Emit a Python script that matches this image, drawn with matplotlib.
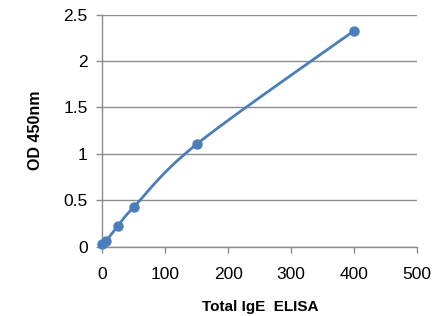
import numpy as np
import matplotlib
matplotlib.use("Agg")
import matplotlib.pyplot as plt

# data
conc = [0, 6.25, 25, 50, 150, 400]
od = [0.025, 0.065, 0.226, 0.427, 1.106, 2.328]

xticks = [0, 100, 200, 300, 400, 500]
yticks = [0, 0.5, 1, 1.5, 2, 2.5]
ytick_labels = ["0", "0.5", "1", "1.5", "2", "2.5"]

line_color = "#4a7ebb"
grid_color = "#8c8c8c"

plt.rcParams["font.family"] = ["Liberation Sans", "DejaVu Sans"]

fig = plt.figure(figsize=(4.42, 3.16), dpi=100)
ax = fig.add_axes([0.2315, 0.2193, 0.7125, 0.7342])


def excel_smooth(x, y, sx, sy, n=40):
    # excel-style smoothed line: bezier segments, done in screen-like units
    px = np.asarray(x, float) / sx
    py = np.asarray(y, float) / sy
    pts = np.column_stack([px, py])
    out = []
    for i in range(len(pts) - 1):
        p0 = pts[max(i - 1, 0)]
        p1 = pts[i]
        p2 = pts[i + 1]
        p3 = pts[min(i + 2, len(pts) - 1)]
        c1 = p1 + (p2 - p0) / 6.0
        c2 = p2 - (p3 - p1) / 6.0
        t = np.linspace(0, 1, n)[:, None]
        seg = ((1 - t) ** 3) * p1 + 3 * ((1 - t) ** 2) * t * c1 + 3 * (1 - t) * t ** 2 * c2 + t ** 3 * p2
        out.append(seg)
    out = np.vstack(out)
    return out[:, 0] * sx, out[:, 1] * sy


# scale so both axes are in roughly pixel units (315 px for 500, 232 px for 2.5)
sx_curve, sy_curve = excel_smooth(conc, od, 500 / 315.0, 2.5 / 232.0)
ax.plot(sx_curve, sy_curve, color=line_color, lw=2, zorder=3, clip_on=False)
ax.plot(conc, od, "o", color=line_color, ms=6.5, zorder=4, clip_on=False)

ax.set_xlim(0, 500)
ax.set_ylim(0, 2.5)
ax.set_xticks(xticks)
ax.set_yticks(yticks)
ax.set_yticklabels(ytick_labels)

ax.grid(axis="y", color=grid_color, lw=1)
ax.set_axisbelow(True)
for s in ["top", "right"]:
    ax.spines[s].set_visible(False)
for s in ["left", "bottom"]:
    ax.spines[s].set_color(grid_color)
    ax.spines[s].set_linewidth(1)

ax.tick_params(axis="both", colors=grid_color, labelcolor="black", labelsize=12.5, length=4.5, width=1)
ax.tick_params(axis="x", pad=10)
ax.tick_params(axis="y", pad=6)

ax.set_xlabel("Total IgE  ELISA", fontsize=11, fontweight="bold", labelpad=13)
ax.set_ylabel("OD 450nm", fontsize=11.5, fontweight="bold", labelpad=15)

plt.savefig("out.png", dpi=100)
